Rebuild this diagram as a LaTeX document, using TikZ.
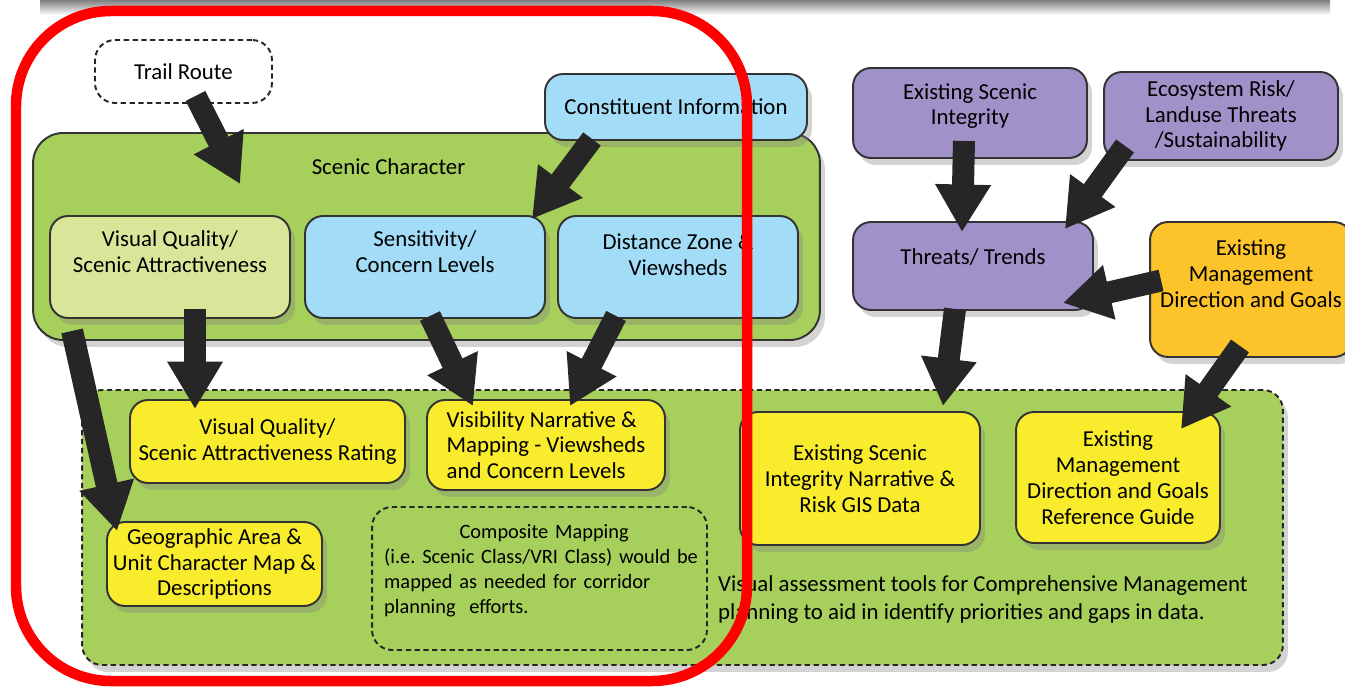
\documentclass[tikz,border=0pt]{standalone}
\usepackage{fontspec}
\setmainfont{Carlito}
\usetikzlibrary{arrows.meta,shadows}

\definecolor{scgreen}{RGB}{167,207,91}
\definecolor{vqgreen}{RGB}{217,230,153}
\definecolor{skyblue}{RGB}{163,220,246}
\definecolor{lilac}{RGB}{160,146,201}
\definecolor{amber}{RGB}{252,196,42}
\definecolor{lemon}{RGB}{248,236,45}

\begin{document}
\begin{tikzpicture}[x=0.02cm, y=-0.02cm,
    font=\fontsize{13}{14.7}\selectfont,
    box/.style = {draw=black!80, line width=1.1pt, rounded corners=0.36cm, align=center,
        drop shadow={shadow xshift=0.1cm, shadow yshift=-0.14cm, opacity=0.35}},
    dashbox/.style = {draw=black!85, line width=1.1pt, dash pattern=on 3pt off 2pt, rounded corners=0.4cm},
    txt/.style = {align=center},
    arr/.style = {-{Triangle[length=0.95cm, width=1.05cm]}, line width=0.44cm, draw=black!85}]

    \useasboundingbox (0,0) rectangle (1345,688);
    \shade[top color=black!50, bottom color=white] (40,0) rectangle (1330,15);

    % containers
    \node[box, fill=scgreen, rounded corners=0.6cm, minimum width=15.74cm, minimum height=4.14cm,
        label={[anchor=center, xshift=-0.76cm, yshift=-0.7cm]north:Scenic Character}] (scenic) at (426.5,236.5) {};
    \node[dashbox, fill=scgreen, minimum width=24.02cm, minimum height=5.5cm,
        drop shadow={shadow xshift=0.1cm, shadow yshift=-0.14cm, opacity=0.35}] (tools) at (682.5,527.5) {};

    % top row
    \node[dashbox, fill=white, minimum width=3.54cm, minimum height=1.26cm] (trail) at (183.5,71.5) {Trail Route};
    \node[box, fill=skyblue, minimum width=5.24cm, minimum height=1.32cm] (const) at (676,107) {Constituent Information};
    \node[box, fill=vqgreen, minimum width=4.8cm, minimum height=2.04cm,
        label={[txt, yshift=0.3cm]center:{Visual Quality/\\Scenic Attractiveness}}] (vq) at (170,267) {};
    \node[box, fill=skyblue, minimum width=4.8cm, minimum height=2.04cm,
        label={[txt, yshift=0.3cm]center:{Sensitivity/\\Concern Levels}}] (sens) at (425,267) {};
    \node[box, fill=skyblue, minimum width=4.8cm, minimum height=2.04cm,
        label={[txt, yshift=0.24cm]center:{Distance Zone \&\\Viewsheds}}] (dist) at (678,267) {};

    \node[box, fill=lilac, minimum width=4.68cm, minimum height=1.8cm,
        label={[txt, yshift=0.14cm]center:{Existing Scenic\\Integrity}}] (esi) at (970,113) {};
    \node[box, fill=lilac, minimum width=4.68cm, minimum height=1.76cm] (eco) at (1221,116)
        {Ecosystem Risk/\\Landuse Threats\\/Sustainability};
    \node[box, fill=lilac, minimum width=4.8cm, minimum height=1.76cm,
        label={[txt, yshift=0.18cm]center:Threats/ Trends}] (threats) at (973,266) {};
    \node[box, fill=amber, minimum width=4.04cm, minimum height=2.7cm,
        label={[txt, yshift=0.32cm]center:{Existing\\Management\\Direction and Goals}}] (emd) at (1251,289.5) {};

    % bottom row
    \node[box, fill=lemon, minimum width=5.5cm, minimum height=1.66cm] (vqr) at (267.5,441.5)
        {Visual Quality/\\Scenic Attractiveness Rating};
    \node[box, fill=lemon, align=left, minimum width=4.76cm, minimum height=1.8cm] (vis) at (546,445)
        {Visibility Narrative \&\\Mapping - Viewsheds\\and Concern Levels};
    \node[box, fill=lemon, minimum width=4.3cm, minimum height=1.68cm] (geo) at (214.5,564)
        {Geographic Area \&\\Unit Character Map \&\\Descriptions};
    \node[dashbox, fill=scgreen, minimum width=6.7cm, minimum height=2.86cm] (comp) at (539.5,578.5) {};
    \node[font=\fontsize{11.6}{14.2}\selectfont, text width=6.4cm, align=left, anchor=north west] (comptxt) at (378,518)
        {{\centering Composite Mapping\par}(i.e.\ Scenic Class/VRI Class) would be\\mapped as needed for corridor\\planning~ efforts.};
    \node[box, fill=lemon, minimum width=4.8cm, minimum height=2.66cm] (esin) at (860,478.5)
        {Existing Scenic\\Integrity Narrative \&\\Risk GIS Data};
    \node[box, fill=lemon, minimum width=4.08cm, minimum height=2.62cm] (emdr) at (1118,477.5)
        {Existing\\Management\\Direction and Goals\\Reference Guide};
    \node[font=\fontsize{13}{15.9}\selectfont, align=left, anchor=west] (note) at (712,600)
        {Visual assessment tools for Comprehensive Management\\planning to aid in identify priorities and gaps in data.};

    % arrows
    \draw[arr] ([shift={(12,-8)}]trail.south) -- ([shift={(208,52)}]scenic.north west);
    \draw[arr] ([shift={(-84,-2)}]const.south) -- ([shift={(-14,4)}]sens.north east);
    \draw[arr] ([shift={(25,-10)}]vq.south) -- ([shift={(-72.5,10)}]vqr.north);
    \draw[arr] ([shift={(5,-3)}]sens.south) -- ([shift={(-73,7)}]vis.north);
    \draw[arr] ([shift={(-62,-3)}]dist.south) -- ([shift={(24,7)}]vis.north);
    \draw[arr] ([shift={(40,-10)}]scenic.south west) -- ([shift={(11,10)}]geo.north west);
    \draw[arr] ([shift={(-6,-18)}]esi.south) -- ([shift={(-11,11)}]threats.north);
    \draw[arr] ([shift={(22,-15)}]eco.south west) -- ([shift={(-29,8)}]threats.north east);
    \draw[arr] ([shift={(12,-9)}]emd.west) -- ([shift={(-31,-8)}]threats.south east);
    \draw[arr] ([shift={(-18,-2)}]threats.south) -- ([shift={(83,-5)}]esin.north);
    \draw[arr] ([shift={(-11,-12)}]emd.south) -- ([shift={(-40,18)}]emdr.north east);

    % highlight
    \draw[red, line width=0.21cm, rounded corners=1.9cm] (16,11) rectangle (747,681);
\end{tikzpicture}
\end{document}
